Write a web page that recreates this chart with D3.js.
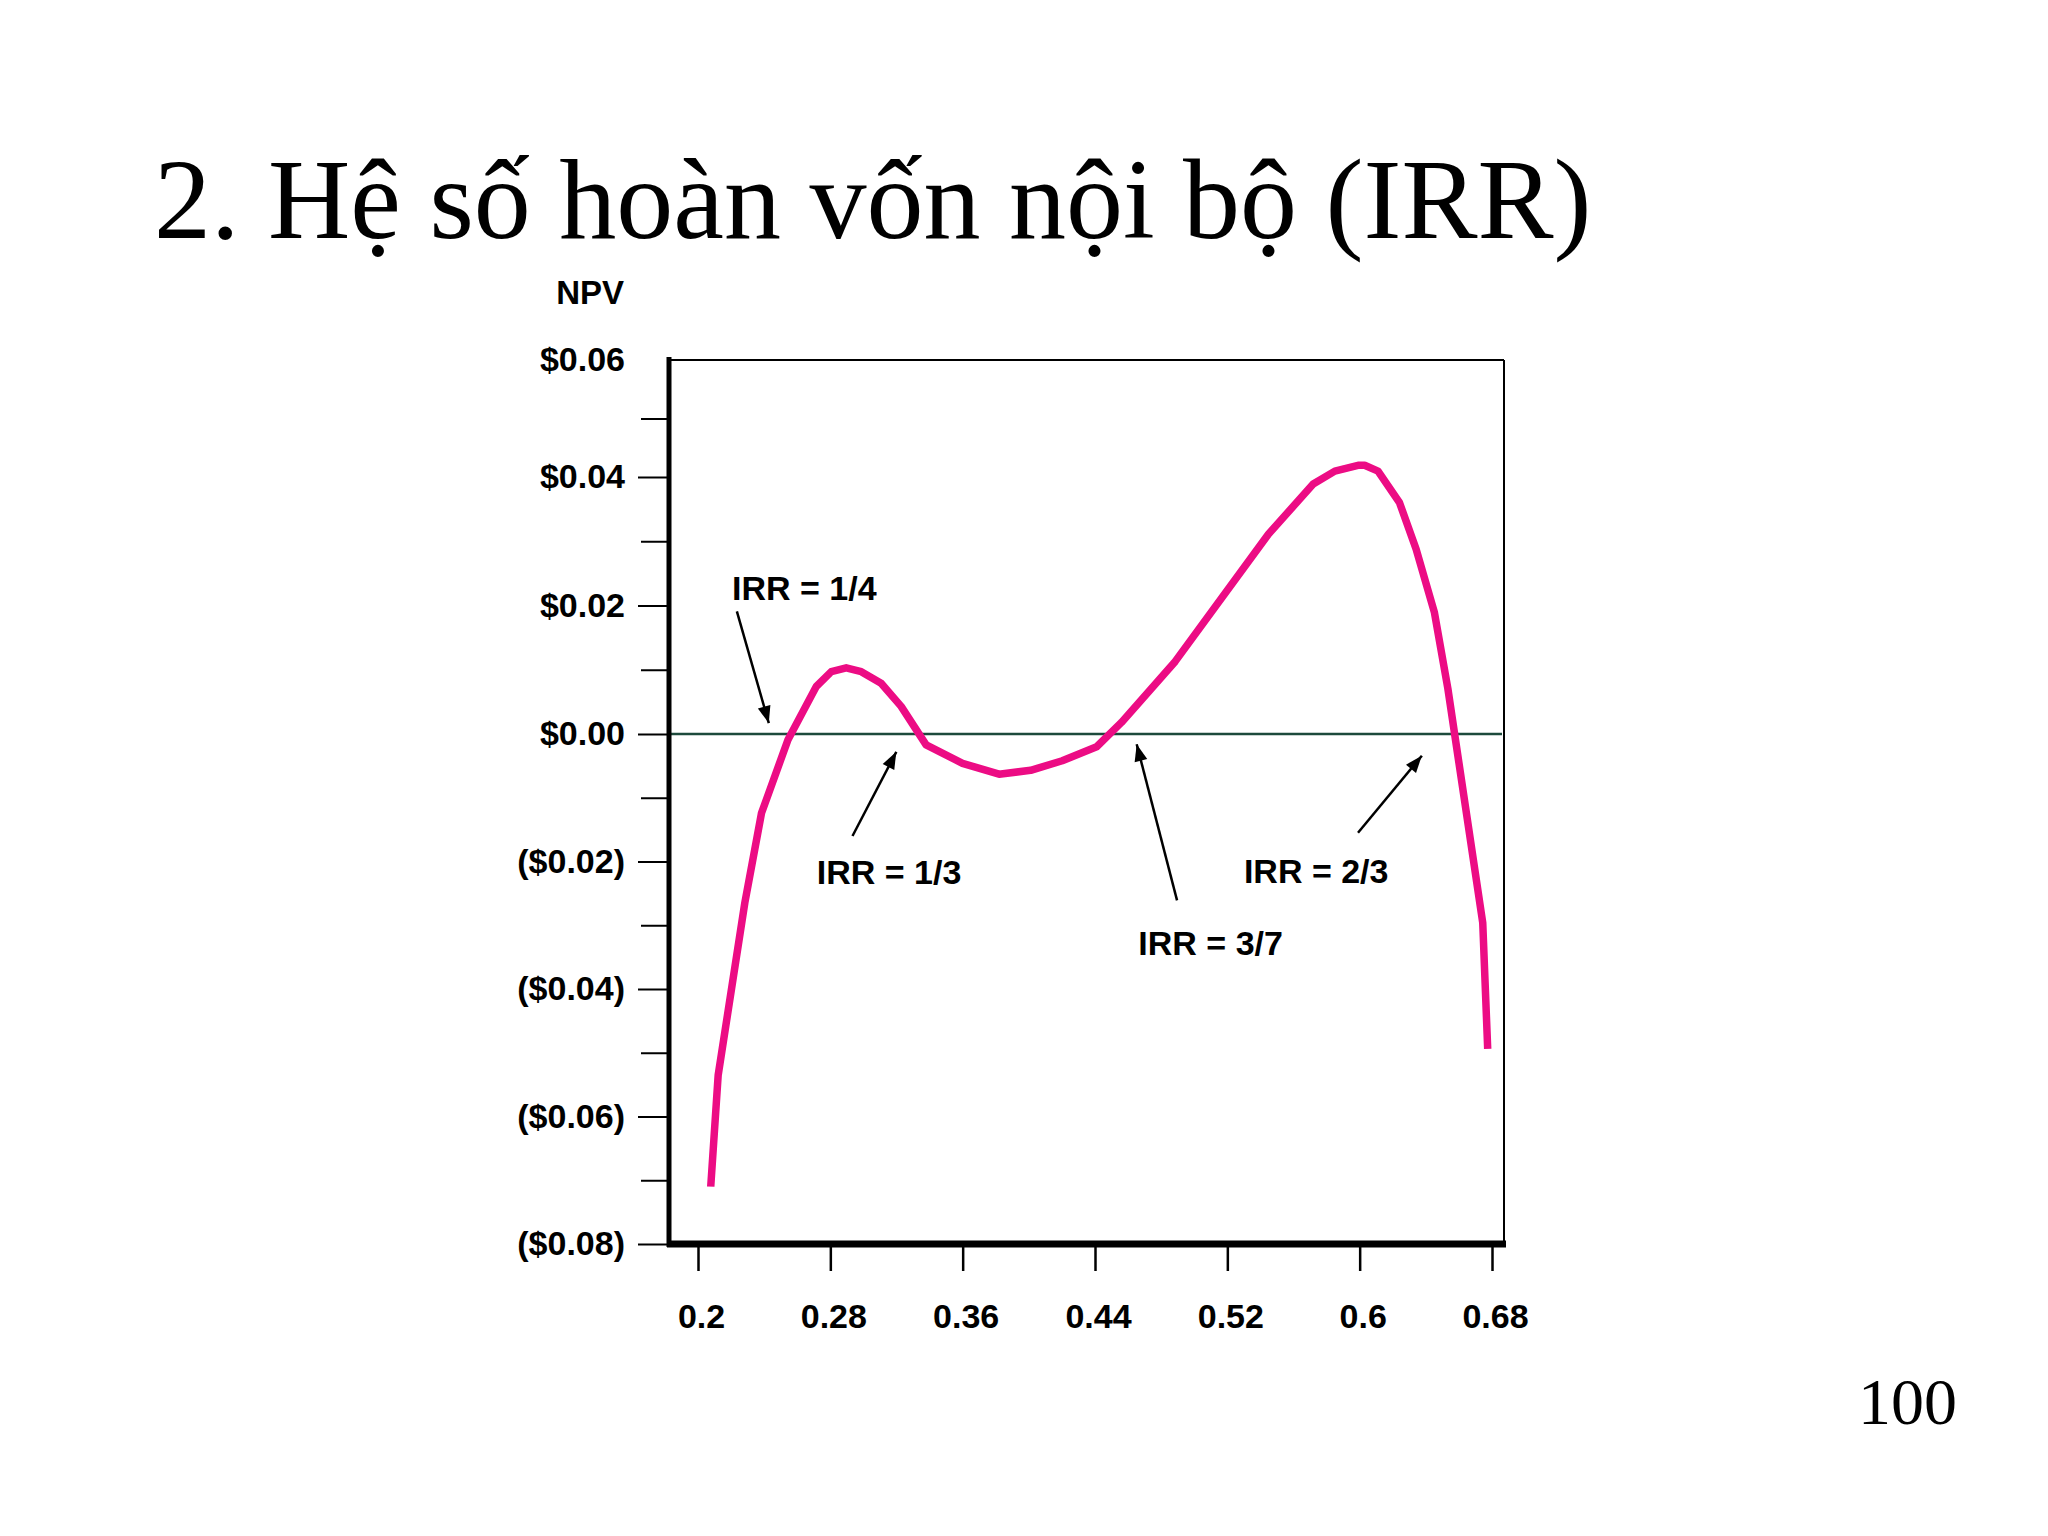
<!DOCTYPE html>
<meta charset="utf-8">
<script src="https://d3js.org/d3.v7.min.js"></script>
<style>
  body { margin: 0; background: #fff; }
</style>
<div id="slide"></div>

<script>
// curve: discount rate vs NPV
var rates = [0.2077, 0.2122, 0.2283, 0.2384, 0.2544, 0.2715, 0.2806, 0.2896, 0.2987, 0.3107,
             0.3228, 0.3379, 0.3599, 0.3820, 0.4011, 0.4202, 0.4410, 0.4560, 0.4885, 0.5448,
             0.5719, 0.5850, 0.5990, 0.6030, 0.6111, 0.6241, 0.6341, 0.6452, 0.6533, 0.6744, 0.6774];
var npv   = [-0.0710, -0.0535, -0.0265, -0.0124, -0.0009, 0.0074, 0.0097, 0.0103, 0.0097, 0.0079,
             0.0043, -0.0017, -0.0046, -0.0063, -0.0057, -0.0042, -0.0020, 0.0018, 0.0113, 0.0311,
             0.0389, 0.0410, 0.0420, 0.0420, 0.0410, 0.0360, 0.0288, 0.0189, 0.0071, -0.0296, -0.0494];

// axis ticks
var xTicks = [0.2, 0.28, 0.36, 0.44, 0.52, 0.6, 0.68];
var xTickLabels = ["0.2", "0.28", "0.36", "0.44", "0.52", "0.6", "0.68"];
var yTicks = [-0.08, -0.06, -0.04, -0.02, 0, 0.02, 0.04, 0.06];
var yTickLabels = ["($0.08)", "($0.06)", "($0.04)", "($0.02)", "$0.00", "$0.02", "$0.04", "$0.06"];
var yMinor = [-0.07, -0.05, -0.03, -0.01, 0.01, 0.03, 0.05];

// IRR callouts: label position and arrow tail/tip, in (rate, npv) units
var calloutText = ["IRR = 1/4", "IRR = 1/3", "IRR = 3/7", "IRR = 2/3"];
var calloutLabel = [[0.2206, 0.0209], [0.2718, -0.0236], [0.4662, -0.0346], [0.5300, -0.0234]];
var calloutTail  = [[0.2235, 0.0191], [0.2934, -0.0160], [0.4896, -0.0261], [0.5990, -0.0155]];
var calloutTip   = [[0.2428, 0.0017], [0.3199, -0.0028], [0.4652, -0.0016], [0.6376, -0.0034]];

var W = 2048, H = 1536;
var pink = "#ec0c84";
var sans = "'Liberation Sans', Arial, sans-serif";
var serif = "'Liberation Serif', 'Times New Roman', serif";

var svg = d3.select("#slide").append("svg")
    .attr("width", W)
    .attr("height", H);

svg.append("rect").attr("width", W).attr("height", H).attr("fill", "#fff");

// title + page number
svg.append("text")
    .attr("x", 154)
    .attr("y", 238)
    .style("font-family", serif)
    .style("font-size", "114px")
    .text("2. Hệ số hoàn vốn nội bộ (IRR)");

svg.append("text")
    .attr("x", 1957)
    .attr("y", 1424)
    .attr("text-anchor", "end")
    .style("font-family", serif)
    .style("font-size", "66px")
    .text("100");

// scales (the original's top band is a little squeezed, hence the extra stop)
var x = d3.scaleLinear().domain([0.2, 0.68]).range([698, 1492]);
var y = d3.scaleLinear().domain([-0.08, 0, 0.04, 0.06]).range([1244, 734, 477, 360]);

var frame = {left: 669, right: 1504, top: y(0.06), bottom: y(-0.08)};

// zero line
svg.append("line")
    .attr("x1", frame.left).attr("x2", frame.right - 2)
    .attr("y1", y(0)).attr("y2", y(0))
    .attr("stroke", "#1d4a3c")
    .attr("stroke-width", 2.5);

// frame
svg.append("line")
    .attr("x1", frame.left).attr("x2", frame.right)
    .attr("y1", frame.top).attr("y2", frame.top)
    .attr("stroke", "#000").attr("stroke-width", 2);
svg.append("line")
    .attr("x1", frame.right).attr("x2", frame.right)
    .attr("y1", frame.top).attr("y2", frame.bottom)
    .attr("stroke", "#000").attr("stroke-width", 2);
svg.append("line")
    .attr("x1", frame.left).attr("x2", frame.left)
    .attr("y1", frame.top - 3).attr("y2", frame.bottom + 3)
    .attr("stroke", "#000").attr("stroke-width", 5);
svg.append("line")
    .attr("x1", frame.left - 2).attr("x2", frame.right + 2)
    .attr("y1", frame.bottom).attr("y2", frame.bottom)
    .attr("stroke", "#000").attr("stroke-width", 7);

// y axis
var yAxis = svg.append("g")
    .attr("transform", "translate(" + (frame.left - 2) + ",0)")
    .call(d3.axisLeft(y)
        .tickValues(yTicks)
        .tickSize(29)
        .tickPadding(13)
        .tickFormat(function(d, i) { return yTickLabels[i]; }));
yAxis.select(".domain").remove();
yAxis.selectAll(".tick line")
    .attr("stroke-width", 2)
    .filter(function(d) { return d === 0.06; }).remove();
yAxis.selectAll("text")
    .attr("fill", "#000")
    .style("font-family", sans)
    .style("font-weight", "bold")
    .style("font-size", "34px");

var yMinorAxis = svg.append("g")
    .attr("transform", "translate(" + (frame.left - 2) + ",0)")
    .call(d3.axisLeft(y).tickValues(yMinor).tickSize(26).tickFormat(""));
yMinorAxis.select(".domain").remove();
yMinorAxis.selectAll(".tick line").attr("stroke-width", 2);

// x axis
var xAxis = svg.append("g")
    .attr("transform", "translate(0," + (frame.bottom + 3) + ")")
    .call(d3.axisBottom(x)
        .tickValues(xTicks)
        .tickSize(24)
        .tickPadding(33)
        .tickFormat(function(d, i) { return xTickLabels[i]; }));
xAxis.select(".domain").remove();
xAxis.selectAll(".tick line").attr("stroke-width", 2.5);
xAxis.selectAll("text")
    .attr("fill", "#000")
    .attr("dx", 3)
    .style("font-family", sans)
    .style("font-weight", "bold")
    .style("font-size", "34px");

// NPV axis title
svg.append("text")
    .attr("x", 624)
    .attr("y", 304)
    .attr("text-anchor", "end")
    .style("font-family", sans)
    .style("font-weight", "bold")
    .style("font-size", "33px")
    .text("NPV");

// NPV curve
var pts = rates.map(function(r, i) { return [r, npv[i]]; });
svg.append("path")
    .datum(pts)
    .attr("fill", "none")
    .attr("stroke", pink)
    .attr("stroke-width", 7.5)
    .attr("stroke-linejoin", "round")
    .attr("d", d3.line()
        .x(function(d) { return x(d[0]); })
        .y(function(d) { return y(d[1]); }));

// arrow head
svg.append("defs").append("marker")
    .attr("id", "head")
    .attr("markerUnits", "userSpaceOnUse")
    .attr("viewBox", "-18 -8 20 16")
    .attr("refX", 0).attr("refY", 0)
    .attr("markerWidth", 20).attr("markerHeight", 16)
    .attr("orient", "auto")
  .append("path")
    .attr("d", "M0,0 L-17,-6.5 L-17,6.5 Z")
    .attr("fill", "#000");

calloutText.forEach(function(t, i) {
  svg.append("line")
      .attr("x1", x(calloutTail[i][0])).attr("y1", y(calloutTail[i][1]))
      .attr("x2", x(calloutTip[i][0])).attr("y2", y(calloutTip[i][1]))
      .attr("stroke", "#000")
      .attr("stroke-width", 2.5)
      .attr("marker-end", "url(#head)");

  svg.append("text")
      .attr("x", x(calloutLabel[i][0]))
      .attr("y", y(calloutLabel[i][1]))
      .style("font-family", sans)
      .style("font-weight", "bold")
      .style("font-size", "34px")
      .text(t);
});
</script>
